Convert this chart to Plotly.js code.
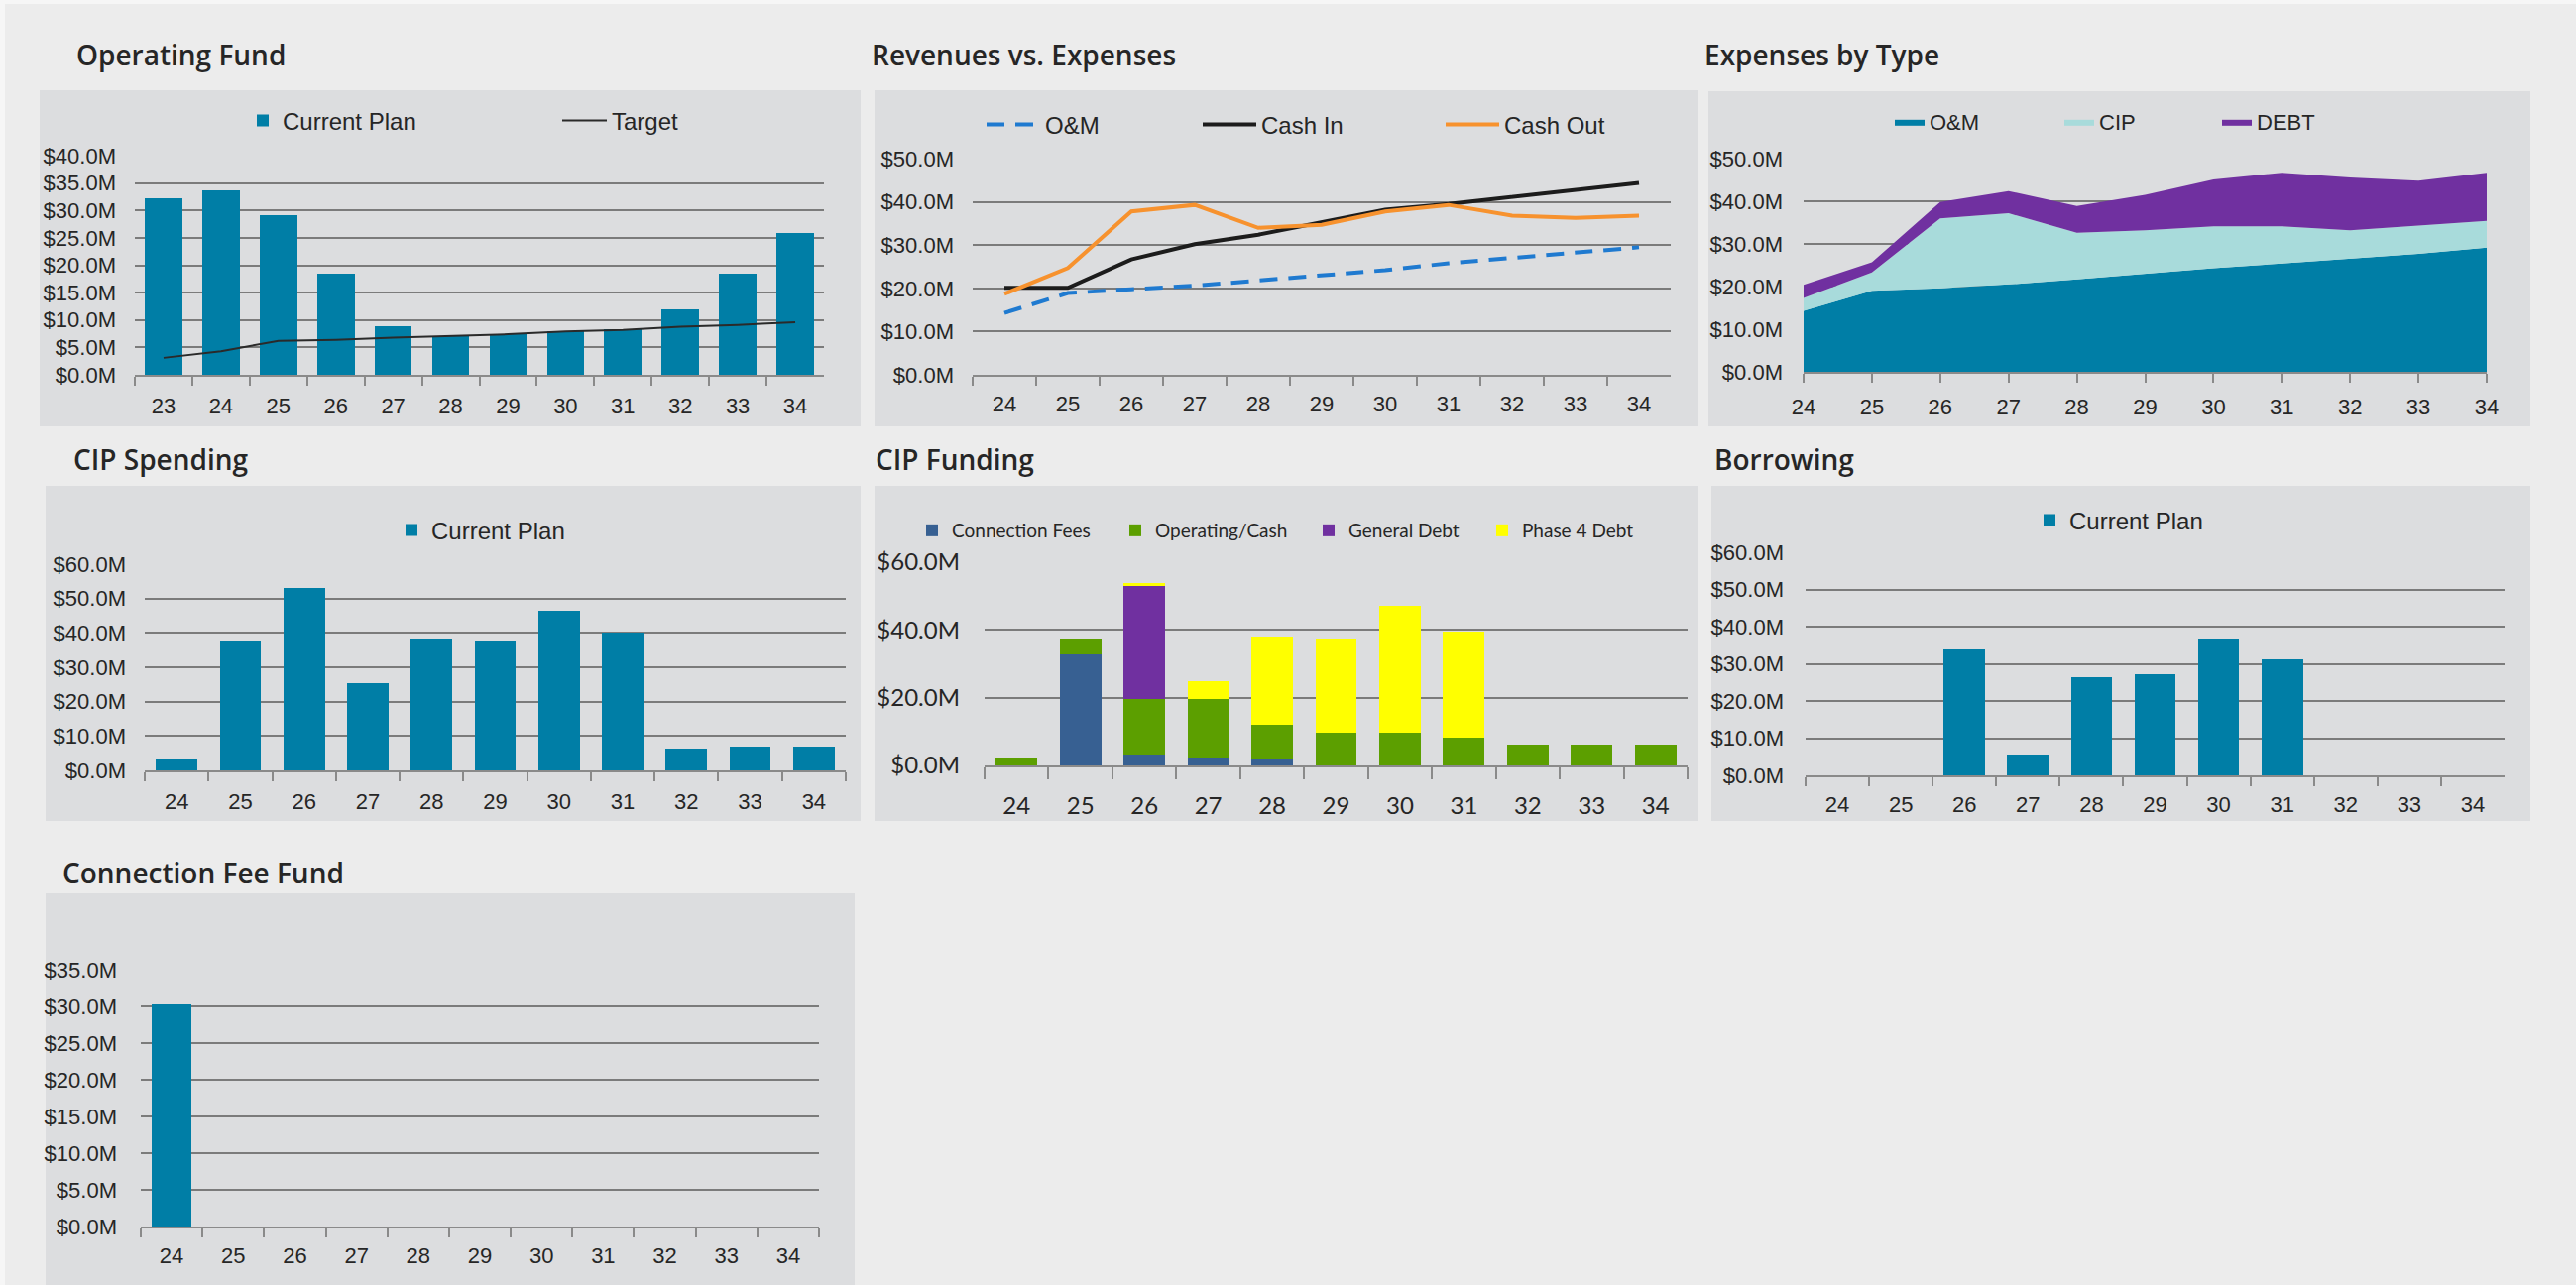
<!DOCTYPE html>
<html><head><meta charset="utf-8">
<script src="https://cdn.plot.ly/plotly-3.0.1.min.js"></script>
<style>html,body{margin:0;padding:0;background:#ededed;}#chart{width:2598px;height:1296px;}</style>
</head><body><div id="chart"></div>
<script>
// ---------- DATA (values in $ millions) ----------
const yearsOp = ['23','24','25','26','27','28','29','30','31','32','33','34'];
const years = ['24','25','26','27','28','29','30','31','32','33','34'];

const opFundCurrent = [32.3,33.7,29.1,18.5,8.8,7.1,7.4,7.9,8.4,12.0,18.5,25.8];
const opFundTarget  = [3.1,4.3,6.2,6.4,6.8,7.1,7.4,7.9,8.2,8.8,9.1,9.6];

const revOM      = [14.3,18.9,19.8,20.6,21.8,23.1,24.2,25.8,27.1,28.2,29.5];
const revCashIn  = [20.1,20.1,26.7,30.2,32.4,35.3,38.2,39.5,41.1,42.7,44.4];
const revCashOut = [18.7,24.7,37.8,39.3,34.0,34.7,37.8,39.3,36.8,36.3,36.8];

const expOM   = [14.3,19.0,19.6,20.5,21.7,23.0,24.3,25.4,26.6,27.7,29.1];
const expCIP  = [3.0,4.3,16.4,16.7,10.9,10.2,9.8,8.7,6.6,6.6,6.3];
const expDebt = [3.1,2.4,3.8,5.2,6.3,8.3,11.0,12.6,12.4,10.5,11.3];

const cipSpending = [3.3,37.7,53.1,25.4,38.5,37.7,46.5,40.0,6.3,6.9,6.9];

const fundConnFees    = [0,32.9,3.1,2.4,1.7,0,0,0,0,0,0];
const fundOperating   = [2.4,4.5,16.4,17.1,10.3,9.8,9.8,8.3,6.1,6.1,6.1];
const fundGeneralDebt = [0,0,33.4,0,0,0,0,0,0,0,0];
const fundPhase4Debt  = [0,0,0.9,5.4,26.1,27.6,37.2,31.2,0,0,0];

const borrowing = [0,0,33.8,5.5,26.5,27.3,36.7,31.1,0,0,0];

const connFeeFund = [30.3,0,0,0,0,0,0,0,0,0,0];

// ---------- STYLE ----------
const W = 2598, H = 1296;
const TEAL = '#007ea6';
const AX = 'Liberation Sans, Arial, sans-serif';
const CAL = 'Lato, sans-serif';
const TITLEF = 'Open Sans, sans-serif';
const TXT = '#262626';
const tickFont = {family: AX, size: 22, color: TXT};
const calFont = {family: CAL, size: 24, color: TXT};

const xd = (a, b) => [a / W, b / W];
const yd = (top, bot) => [1 - bot / H, 1 - top / H];

function yAx(dom, range, dtick, standoff, font, anchor) {
  return {domain: dom, range: range, dtick: dtick, tick0: 0, tickprefix: '$', ticksuffix: 'M',
    tickformat: '.1f', showgrid: true, gridcolor: '#7b7b7b', gridwidth: 2, zeroline: false,
    showline: false, ticks: '', ticklabelstandoff: standoff, tickfont: font || tickFont,
    anchor: anchor, fixedrange: true};
}
function xAx(dom, range, tickson, font, anchor, standoff, ticklen) {
  return {domain: dom, type: 'category', range: range, showline: true, linecolor: '#8a8a8a',
    linewidth: 2, ticks: 'outside', ticklen: ticklen || 9, tickwidth: 2, tickcolor: '#8a8a8a',
    tickson: tickson, showgrid: false, zeroline: false, tickfont: font || tickFont,
    ticklabelstandoff: standoff, anchor: anchor, fixedrange: true};
}
function leg(x, y, font, itemwidth) {
  return {x: x / W, y: 1 - y / H, xanchor: 'left', yanchor: 'middle', orientation: 'h',
    bgcolor: 'rgba(0,0,0,0)', borderwidth: 0, font: font, itemwidth: itemwidth || 30,
    itemclick: false, itemdoubleclick: false};
}
function panel(x0, y0, x1, y1) {
  return {type: 'rect', xref: 'paper', yref: 'paper', x0: x0 / W, x1: x1 / W,
    y0: 1 - y1 / H, y1: 1 - y0 / H, fillcolor: '#dcdddf', line: {width: 0}, layer: 'below'};
}
function ttl(text, x, y) {
  return {text: text, x: x / W, y: 1 - y / H, xref: 'paper', yref: 'paper', xanchor: 'left',
    yanchor: 'middle', showarrow: false,
    font: {family: TITLEF, size: 28, color: TXT, weight: 600}};
}

const legFont = {family: AX, size: 24, color: TXT};
const legFont3 = {family: AX, size: 22, color: TXT};
const legFont5 = {family: CAL, size: 19, color: TXT};

const traces = [
  // Operating Fund
  {type: 'bar', x: yearsOp, y: opFundCurrent, name: 'Current Plan', marker: {color: TEAL},
   xaxis: 'x', yaxis: 'y', legend: 'legend'},
  {type: 'scatter', mode: 'lines', x: yearsOp, y: opFundTarget, name: 'Target',
   line: {color: '#2a2a2a', width: 2}, xaxis: 'x', yaxis: 'y', legend: 'legend2'},
  // Revenues vs Expenses
  {type: 'scatter', mode: 'lines', x: years, y: revOM, name: 'O&M',
   line: {color: '#1f7ad0', width: 4, dash: '18px,11px'}, xaxis: 'x2', yaxis: 'y2', legend: 'legend3'},
  {type: 'scatter', mode: 'lines', x: years, y: revCashIn, name: 'Cash In',
   line: {color: '#1c1c1c', width: 4}, xaxis: 'x2', yaxis: 'y2', legend: 'legend4'},
  {type: 'scatter', mode: 'lines', x: years, y: revCashOut, name: 'Cash Out',
   line: {color: '#f7922e', width: 4}, xaxis: 'x2', yaxis: 'y2', legend: 'legend5'},
  // Expenses by Type
  {type: 'scatter', mode: 'lines', x: years, y: expOM, name: 'O&M', stackgroup: 'exp',
   fillcolor: TEAL, line: {width: 0, color: TEAL}, xaxis: 'x3', yaxis: 'y3', legend: 'legend6'},
  {type: 'scatter', mode: 'lines', x: years, y: expCIP, name: 'CIP', stackgroup: 'exp',
   fillcolor: '#a8dbdb', line: {width: 0, color: '#a8dbdb'}, xaxis: 'x3', yaxis: 'y3', legend: 'legend7'},
  {type: 'scatter', mode: 'lines', x: years, y: expDebt, name: 'DEBT', stackgroup: 'exp',
   fillcolor: '#7030a0', line: {width: 0, color: '#7030a0'}, xaxis: 'x3', yaxis: 'y3', legend: 'legend8'},
  // CIP Spending
  {type: 'bar', x: years, y: cipSpending, name: 'Current Plan', marker: {color: TEAL},
   xaxis: 'x4', yaxis: 'y4', legend: 'legend9'},
  // CIP Funding
  {type: 'bar', x: years, y: fundConnFees, name: 'Connection Fees', marker: {color: '#376092'},
   xaxis: 'x5', yaxis: 'y5', legend: 'legend10'},
  {type: 'bar', x: years, y: fundOperating, name: 'Operating/Cash', marker: {color: '#5c9f00'},
   xaxis: 'x5', yaxis: 'y5', legend: 'legend11'},
  {type: 'bar', x: years, y: fundGeneralDebt, name: 'General Debt', marker: {color: '#7030a0'},
   xaxis: 'x5', yaxis: 'y5', legend: 'legend12'},
  {type: 'bar', x: years, y: fundPhase4Debt, name: 'Phase 4 Debt', marker: {color: '#ffff00'},
   xaxis: 'x5', yaxis: 'y5', legend: 'legend13'},
  // Borrowing
  {type: 'bar', x: years, y: borrowing, name: 'Current Plan', marker: {color: TEAL},
   xaxis: 'x6', yaxis: 'y6', legend: 'legend14'},
  // Connection Fee Fund
  {type: 'bar', x: years, y: connFeeFund, name: 'Current Plan', marker: {color: TEAL},
   xaxis: 'x7', yaxis: 'y7', showlegend: false}
];

const layout = {
  width: W, height: H, autosize: false,
  margin: {l: 0, r: 0, t: 0, b: 0, pad: 0},
  paper_bgcolor: '#f6f6f6', plot_bgcolor: 'rgba(0,0,0,0)',
  barmode: 'stack', bargap: 0.35,
  hovermode: false,
  font: {family: AX, color: TXT},
  xaxis:  xAx(xd(136, 831), [-0.5, 11.5], 'boundaries', null, 'y', 11),
  yaxis:  yAx(yd(157, 378), [0, 40], 5, 18, null, 'x'),
  xaxis2: xAx(xd(981, 1685), [-0.5, 10.5], 'boundaries', null, 'y2', 9),
  yaxis2: yAx(yd(160, 378), [0, 50], 10, 18, null, 'x2'),
  xaxis3: xAx(xd(1819, 2508), [0, 10], 'labels', null, 'y3', 6),
  yaxis3: yAx(yd(160, 375), [0, 50], 10, 20, null, 'x3'),
  xaxis4: xAx(xd(146, 853), [-0.5, 10.5], 'boundaries', null, 'y4', 11),
  yaxis4: yAx(yd(569, 777), [0, 60], 10, 18, null, 'x4'),
  xaxis5: xAx(xd(993, 1702), [-0.5, 10.5], 'boundaries', calFont, 'y5', 18, 12),
  yaxis5: yAx(yd(567, 772), [0, 60], 20, 24, calFont, 'x5'),
  xaxis6: xAx(xd(1821, 2526), [-0.5, 10.5], 'boundaries', null, 'y6', 9),
  yaxis6: yAx(yd(557, 782), [0, 60], 10, 21, null, 'x6'),
  xaxis7: xAx(xd(142, 826), [-0.5, 10.5], 'boundaries', null, 'y7', 9),
  yaxis7: yAx(yd(978, 1237), [0, 35], 5, 23, null, 'x7'),
  legend:   leg(245, 122, legFont),
  legend2:  leg(562, 122, legFont, 45),
  legend3:  leg(990, 126, legFont, 54),
  legend4:  leg(1208, 126, legFont, 54),
  legend5:  leg(1453, 126, legFont, 54),
  legend6:  leg(1906, 123, legFont3),
  legend7:  leg(2077, 123, legFont3),
  legend8:  leg(2236, 123, legFont3),
  legend9:  leg(395, 535, legFont),
  legend10: leg(920, 535, legFont5),
  legend11: leg(1125, 535, legFont5),
  legend12: leg(1320, 535, legFont5),
  legend13: leg(1495, 535, legFont5),
  legend14: leg(2047, 525, legFont),
  shapes: [
    {type: 'rect', xref: 'paper', yref: 'paper', x0: 5 / W, x1: 1, y0: 0, y1: 1 - 4 / H,
     fillcolor: '#ececec', line: {width: 0}, layer: 'below'},
    panel(40, 91, 868, 430),
    panel(882, 91, 1713, 430),
    panel(1723, 92, 2552, 430),
    panel(46, 490, 868, 828),
    panel(882, 490, 1713, 828),
    panel(1726, 490, 2552, 828),
    panel(46, 901, 862, 1296)
  ],
  annotations: [
    ttl('Operating Fund', 75, 55),
    ttl('Revenues vs. Expenses', 877, 55),
    ttl('Expenses by Type', 1717, 55),
    ttl('CIP Spending', 72, 463),
    ttl('CIP Funding', 881, 463),
    ttl('Borrowing', 1727, 463),
    ttl('Connection Fee Fund', 61, 880)
  ]
};

Plotly.newPlot('chart', traces, layout, {displayModeBar: false, staticPlot: true});
</script>
</body></html>
